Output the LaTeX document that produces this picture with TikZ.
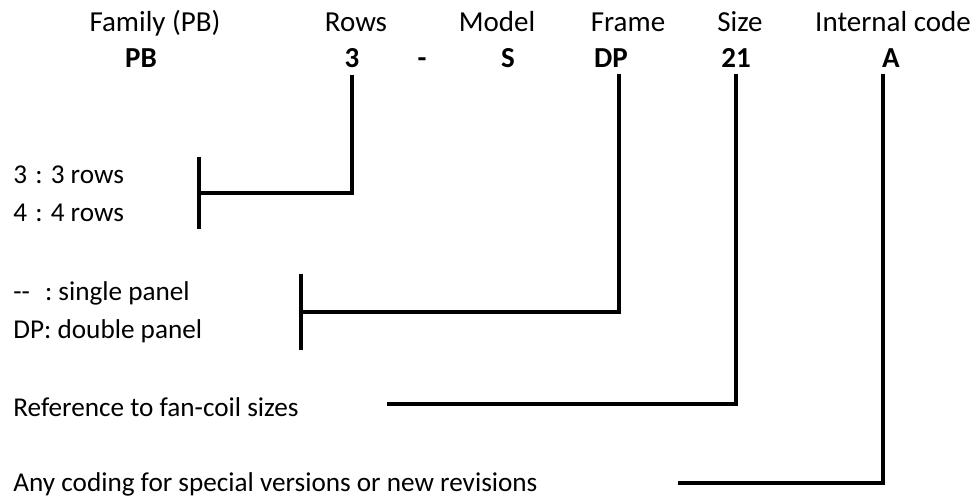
\documentclass[tikz,border=0pt]{standalone}
\usepackage{fontspec}
\setmainfont{Carlito}
\frenchspacing
\usetikzlibrary{positioning}

\begin{document}
\begin{tikzpicture}[x=0.5pt, y=-0.5pt,
    hdr/.style={anchor=base, font=\fontsize{14.5}{17}\selectfont, inner sep=1pt},
    code/.style={anchor=base, font=\fontsize{14.5}{17}\selectfont\bfseries, inner sep=3pt},
    desc/.style={anchor=west, align=left, font=\fontsize{13.6}{19}\selectfont, inner sep=0pt},
    lead/.style={line width=1.75pt},
    bar/.style={line width=1.75pt}
]
\useasboundingbox (0,0) rectangle (976,501);
% header labels
\node[hdr] (famlbl) at (155,32) {Family (PB)};
\node[hdr] (rowlbl) at (356,32) {Rows};
\node[hdr] (modlbl) at (497,32) {Model};
\node[hdr] (frmlbl) at (628,32) {Frame};
\node[hdr] (sizlbl) at (740,32) {Size};
\node[hdr] (intlbl) at (893,32) {Internal code};
% code letters
\node[code] (pb)    at (141,68) {PB};
\node[code] (rows)  at (352,68) {3};
\node[code] (dash)  at (422,68) {-};
\node[code] (model) at (508,68) {S};
\node[code] (frame) at (611,68) {DP};
\node[code] (size)  at (736,68) {21};
\node[code] (icode) at (891,68) {A};
% descriptions
\node[desc] (rowsdesc)  at (13,194) {3\hspace{0.3em}:\hspace{0.3em}3 rows\\4\hspace{0.3em}:\hspace{0.3em}4 rows};
\node[desc] (framedesc) at (13,312) {{-}{-}\hspace{0.55em}: single panel\\DP: double panel};
\node[desc, anchor=base west] (sizedesc)  at (13,417) {Reference to fan-coil sizes};
\node[desc, anchor=base west] (icodedesc) at (13,492) {Any coding for special versions or new revisions};
% joints
\coordinate (rowsjoin)    at (199,193);
\coordinate (framecorner) at (619,312);
\coordinate (framejoin)   at (301,312);
\coordinate (sizeend)     at (387,404);
\coordinate (icodecorner) at (883,483);
\coordinate (icodeend)    at (678,483);
% leaders
\draw[lead] (rows.south) |- (rowsjoin);
\draw[bar] (rowsjoin) ++(0,-36) -- ++(0,72);
\draw[lead] (frame.south -| framecorner) -- (framecorner) -- (framejoin);
\draw[bar] (framejoin) ++(0,-38) -- ++(0,76);
\draw[lead] (size.south) |- (sizeend);
\draw[lead] (icode.south -| icodecorner) -- (icodecorner) -- (icodeend);
\end{tikzpicture}
\end{document}
